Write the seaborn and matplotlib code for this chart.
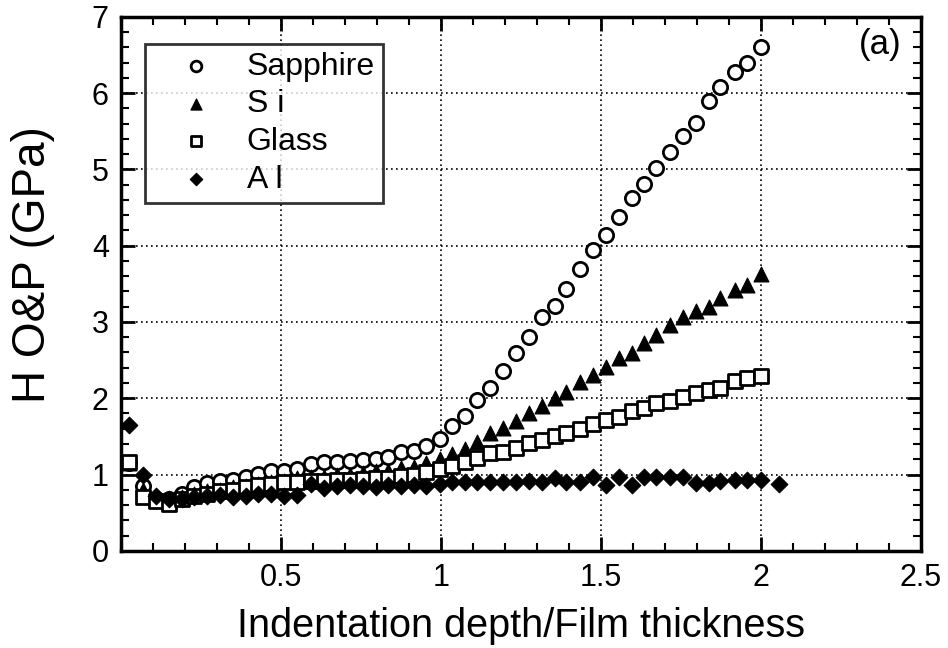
import matplotlib
matplotlib.use("Agg")
import matplotlib.pyplot as plt
import seaborn as sns
import pandas as pd
from matplotlib.ticker import MultipleLocator

# ---------------- data ----------------
depth_ratio = [0.025, 0.068, 0.108, 0.148, 0.19, 0.228, 0.268, 0.308, 0.348, 0.39,
               0.427, 0.469, 0.51, 0.55, 0.592, 0.633, 0.673, 0.714, 0.755, 0.797,
               0.833, 0.875, 0.914, 0.953, 0.995, 1.034, 1.075, 1.113, 1.152, 1.192,
               1.234, 1.276, 1.314, 1.355, 1.391, 1.433, 1.476, 1.514, 1.556, 1.595,
               1.635, 1.673, 1.715, 1.755, 1.798, 1.837, 1.873, 1.919, 1.955, 2.0]

sapphire_h = [1.15, 0.85, 0.68, 0.68, 0.75, 0.83, 0.89, 0.92, 0.93, 0.97,
              1.01, 1.05, 1.05, 1.07, 1.14, 1.16, 1.16, 1.18, 1.19, 1.21,
              1.23, 1.29, 1.31, 1.37, 1.46, 1.63, 1.77, 1.98, 2.14, 2.36,
              2.59, 2.80, 3.06, 3.21, 3.43, 3.69, 3.94, 4.14, 4.37, 4.62,
              4.81, 5.02, 5.23, 5.44, 5.61, 5.90, 6.08, 6.28, 6.40, 6.61]

si_h = [1.15, 0.80, 0.68, 0.65, 0.70, 0.75, 0.78, 0.80, 0.83, 0.85,
        0.87, 0.90, 0.92, 0.95, 0.97, 0.97, 1.00, 1.00, 1.02, 1.04,
        1.05, 1.08, 1.10, 1.15, 1.20, 1.27, 1.33, 1.42, 1.55, 1.61,
        1.70, 1.80, 1.90, 2.00, 2.08, 2.21, 2.31, 2.41, 2.53, 2.59,
        2.72, 2.83, 2.96, 3.06, 3.14, 3.19, 3.32, 3.42, 3.49, 3.63]

glass_h = [1.17, 0.70, 0.65, 0.62, 0.68, 0.72, 0.75, 0.78, 0.80, 0.83,
           0.86, 0.88, 0.90, 0.90, 0.91, 0.91, 0.93, 0.93, 0.94, 0.95,
           0.96, 0.98, 1.00, 1.03, 1.07, 1.11, 1.17, 1.22, 1.28, 1.30,
           1.35, 1.41, 1.45, 1.51, 1.55, 1.60, 1.66, 1.72, 1.75, 1.83,
           1.87, 1.94, 1.96, 2.02, 2.07, 2.11, 2.13, 2.22, 2.26, 2.29]

al_depth_ratio = depth_ratio + [2.057]
al_h = [1.65, 1.00, 0.72, 0.68, 0.68, 0.70, 0.72, 0.73, 0.70, 0.72,
        0.75, 0.74, 0.72, 0.73, 0.88, 0.82, 0.85, 0.86, 0.85, 0.84,
        0.86, 0.85, 0.86, 0.85, 0.87, 0.90, 0.90, 0.90, 0.90, 0.90,
        0.90, 0.92, 0.90, 0.96, 0.90, 0.90, 0.97, 0.865, 0.97, 0.865,
        0.97, 0.965, 0.965, 0.965, 0.89, 0.89, 0.91, 0.93, 0.93, 0.93,
        0.88]

x_ticks = [0.5, 1, 1.5, 2, 2.5]
x_tick_labels = ["0.5", "1", "1.5", "2", "2.5"]
y_ticks = [0, 1, 2, 3, 4, 5, 6, 7]

# ---------------- style ----------------
sns.set_theme(style="white")
plt.rcParams["font.family"] = ["Liberation Sans", "DejaVu Sans"]

fig = plt.figure(figsize=(9.48, 6.48), dpi=100)
ax = fig.add_axes([0.128, 0.150, 0.8435, 0.824])

sns.scatterplot(x=depth_ratio, y=sapphire_h, ax=ax, marker="o", s=105,
                color="white", edgecolor="black", linewidth=2.0, label="Sapphire", zorder=3)
sns.scatterplot(x=depth_ratio, y=si_h, ax=ax, marker="^", s=115,
                color="black", edgecolor="black", linewidth=0.8, label="S i", zorder=4)
sns.scatterplot(x=depth_ratio, y=glass_h, ax=ax, marker="s", s=95,
                color="white", edgecolor="black", linewidth=2.0, label="Glass", zorder=5)
sns.scatterplot(x=al_depth_ratio, y=al_h, ax=ax, marker="D", s=72,
                color="black", edgecolor="black", linewidth=0.8, label="A l", zorder=6)

ax.set_xlim(0, 2.5)
ax.set_ylim(0, 7)
ax.set_xticks(x_ticks)
ax.set_xticklabels(x_tick_labels)
ax.set_yticks(y_ticks)
ax.xaxis.set_minor_locator(MultipleLocator(0.1))
ax.yaxis.set_minor_locator(MultipleLocator(0.2))

ax.tick_params(which="both", direction="in", top=True, right=True,
               bottom=True, left=True, color="black")
ax.tick_params(which="major", length=10, width=2, labelsize=22, pad=9,
               labelcolor="black")
ax.tick_params(which="minor", length=6, width=1.5)

ax.grid(True, which="major", color="black", linestyle=(0, (1, 2)), linewidth=1.2)
ax.set_axisbelow(True)
for sp in ax.spines.values():
    sp.set_color("black")
    sp.set_linewidth(2.5)

ax.set_xlabel("Indentation depth/Film thickness", fontsize=28.5, color="black", labelpad=10)
ax.set_ylabel("H O&P (GPa)", fontsize=33, color="black")
ax.yaxis.set_label_coords(-0.083, 0.536)

ax.text(0.949, 0.948, "(a)", transform=ax.transAxes, fontsize=25,
        ha="center", va="center", color="black")

leg = ax.legend(loc="upper left", bbox_to_anchor=(0.029, 0.950), borderaxespad=0,
                fontsize=23, markerscale=0.75, frameon=True, fancybox=False,
                handletextpad=0.25, handlelength=2.7, labelspacing=0.24,
                borderpad=0.25)
leg.get_frame().set_edgecolor("black")
leg.get_frame().set_linewidth(2)
for t in leg.get_texts():
    t.set_color("black")

fig.savefig("out.png", dpi=100)
